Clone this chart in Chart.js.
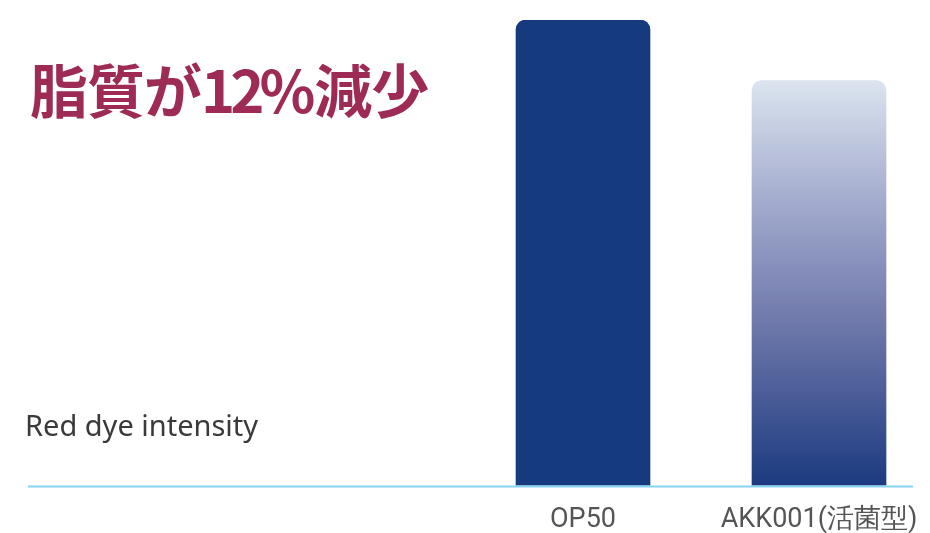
<!DOCTYPE html>
<html>
<head>
<meta charset="utf-8">
<script src="https://cdn.jsdelivr.net/npm/chart.js@4.4.1/dist/chart.umd.min.js"></script>
<style>
  html, body { margin:0; padding:0; background:#fff; overflow:hidden; width:930px; height:533px; }
  #wrap { position:absolute; left:0; top:0; width:940px; height:533px; }
  #title { position:absolute; left:30px; top:50px; font-family:"Noto Sans CJK JP"; font-weight:700; font-size:58px; line-height:76px; color:#9d2b55; white-space:nowrap; letter-spacing:-1px; }
  #title .num { letter-spacing:-5px; margin-right:4px; }
  #ylab { position:absolute; left:25px; top:406px; font-family:"Noto Sans", sans-serif; font-size:29px; line-height:38px; color:#3a3a3a; white-space:nowrap; }
</style>
</head>
<body>
<div id="wrap"><canvas id="c" width="940" height="533"></canvas></div>
<div id="title">脂質が<span class="num">12%</span>減少</div>
<div id="ylab">Red dye intensity</div>
<script>
const categories = ["OP50", "AKK001(活菌型)"];
const redDyeIntensity = [100, 87];
const titleText = "脂質が12%減少";

const solidColor = "#153b7e";

const baselinePlugin = {
  id: "baseline",
  afterDatasetsDraw(chart) {
    const ctx = chart.ctx;
    const y = chart.scales.y.getPixelForValue(0);
    ctx.save();
    ctx.strokeStyle = "#86d3f2";
    ctx.lineWidth = 2;
    ctx.beginPath();
    ctx.moveTo(28, y + 1);
    ctx.lineTo(913, y + 1);
    ctx.stroke();
    ctx.restore();
  }
};

function barColor(context) {
  const chart = context.chart;
  const { chartArea, scales } = chart;
  if (!chartArea) return solidColor;
  if (context.dataIndex === 0) return solidColor;
  const top = scales.y.getPixelForValue(context.raw);
  const bottom = scales.y.getPixelForValue(0);
  const g = chart.ctx.createLinearGradient(0, top, 0, bottom);
  g.addColorStop(0, "#dbe4ef");
  g.addColorStop(0.3, "#a3abce");
  g.addColorStop(0.6, "#6e78aa");
  g.addColorStop(1, "#1c3a80");
  return g;
}

new Chart(document.getElementById("c"), {
  type: "bar",
  data: {
    labels: categories,
    datasets: [{
      data: redDyeIntensity,
      backgroundColor: barColor,
      borderRadius: { topLeft: 10, topRight: 10, bottomLeft: 0, bottomRight: 0 },
      borderSkipped: "start",
      barThickness: 134
    }]
  },
  options: {
    responsive: false,
    animation: false,
    layout: { padding: { left: 465, right: 3, top: 20, bottom: -21 } },
    plugins: { legend: { display: false }, tooltip: { enabled: false }, title: { display: false } },
    scales: {
      y: { display: false, min: 0, max: 100 },
      x: {
        grid: { display: false, drawTicks: false },
        border: { display: false },
        ticks: { color: "#555", font: { family: "Roboto", size: 27 }, padding: 18, maxRotation: 0 }
      }
    }
  },
  plugins: [baselinePlugin]
});
</script>
</body>
</html>
